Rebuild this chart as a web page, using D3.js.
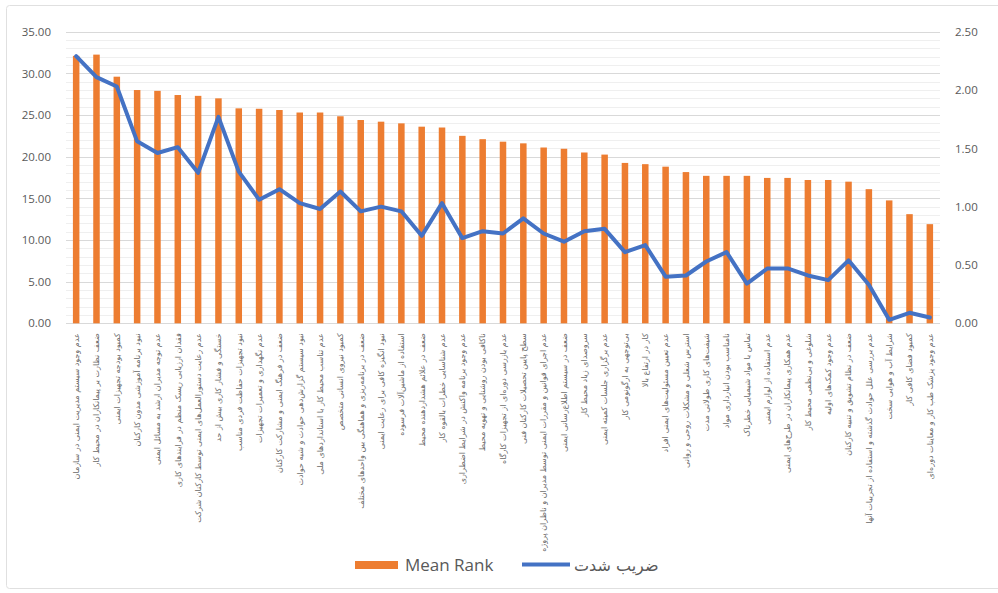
<!DOCTYPE html>
<html>
<head>
<meta charset="utf-8">
<script src="https://cdn.jsdelivr.net/npm/d3@7"></script>
<style>
  html, body { margin: 0; padding: 0; background: #fff; }
  svg { display: block; }
</style>
</head>
<body>
<svg id="chart" width="998" height="593"></svg>
<script>
const categories = [
  "عدم وجود سیستم مدیریت ایمنی در سازمان",
  "ضعف نظارت بر پیمانکاران در محیط کار",
  "کمبود بودجه تجهیزات ایمنی",
  "نبود برنامه آموزشی مدون کارکنان",
  "عدم توجه مدیران ارشد به مسائل ایمنی",
  "فقدان ارزیابی ریسک منظم در فرایندهای کاری",
  "عدم رعایت دستورالعمل‌های ایمنی توسط کارکنان شرکت",
  "خستگی و فشار کاری بیش از حد",
  "نبود تجهیزات حفاظت فردی مناسب",
  "عدم نگهداری و تعمیرات تجهیزات",
  "ضعف در فرهنگ ایمنی و مشارکت کارکنان",
  "نبود سیستم گزارش‌دهی حوادث و شبه حوادث",
  "عدم تناسب محیط کار با استانداردهای ملی",
  "کمبود نیروی انسانی متخصص",
  "ضعف در برنامه‌ریزی و هماهنگی بین واحدهای مختلف",
  "نبود انگیزه کافی برای رعایت ایمنی",
  "استفاده از ماشین‌آلات فرسوده",
  "ضعف در علائم هشداردهنده محیط",
  "عدم شناسایی خطرات بالقوه کار",
  "عدم وجود برنامه واکنش در شرایط اضطراری",
  "ناکافی بودن روشنایی و تهویه محیط",
  "عدم بازرسی دوره‌ای از تجهیزات کارگاه",
  "سطح پایین تحصیلات کارکنان فنی",
  "عدم اجرای قوانین و مقررات ایمنی توسط مدیران و ناظران پروژه",
  "ضعف در سیستم اطلاع‌رسانی ایمنی",
  "سروصدای زیاد محیط کار",
  "عدم برگزاری جلسات کمیته ایمنی",
  "بی‌توجهی به ارگونومی کار",
  "کار در ارتفاع بالا",
  "عدم تعیین مسئولیت‌های ایمنی افراد",
  "استرس شغلی و مشکلات روحی و روانی",
  "شیفت‌های کاری طولانی مدت",
  "نامناسب بودن انبارداری مواد",
  "تماس با مواد شیمیایی خطرناک",
  "عدم استفاده از لوازم ایمنی",
  "عدم همکاری پیمانکاران در طرح‌های ایمنی",
  "شلوغی و بی‌نظمی محیط کار",
  "عدم وجود کمک‌های اولیه",
  "ضعف در نظام تشویق و تنبیه کارکنان",
  "عدم بررسی علل حوادث گذشته و استفاده از تجربیات آنها",
  "شرایط آب و هوایی سخت",
  "کمبود فضای کافی کار",
  "عدم وجود پزشک طب کار و معاینات دوره‌ای"
];

const meanRank = [
  32.1, 32.25, 29.6, 28.0, 27.9, 27.4, 27.3, 27.0, 25.8, 25.75,
  25.6, 25.3, 25.3, 24.85, 24.4, 24.2, 24.0, 23.6, 23.5, 22.5,
  22.1, 21.8, 21.6, 21.1, 20.95, 20.5, 20.25, 19.25, 19.1, 18.8,
  18.15, 17.7, 17.7, 17.7, 17.45, 17.45, 17.2, 17.2, 17.0, 16.1,
  14.75, 13.1, 11.9
];

const severity = [
  2.29, 2.11, 2.03, 1.56, 1.46, 1.51, 1.29, 1.77, 1.30, 1.06,
  1.15, 1.03, 0.98, 1.13, 0.96, 1.00, 0.96, 0.75, 1.03, 0.73,
  0.79, 0.77, 0.90, 0.77, 0.70, 0.79, 0.81, 0.61, 0.67, 0.40,
  0.41, 0.53, 0.61, 0.34, 0.47, 0.47, 0.41, 0.37, 0.54, 0.33,
  0.03, 0.09, 0.05
];

const leftTicks = [0, 5, 10, 15, 20, 25, 30, 35];
const rightTicks = [0, 0.5, 1.0, 1.5, 2.0, 2.5];
const seriesNames = ["Mean Rank", "ضریب شدت"];

const W = 998, H = 593;
const margin = { left: 66, right: 58, top: 31.7, bottom: 269.7 };
const svg = d3.select("#chart");

// outer border
svg.append("rect")
  .attr("x", 6.5).attr("y", 5.5)
  .attr("width", W).attr("height", 583)
  .attr("rx", 3)
  .attr("fill", "#fff")
  .attr("stroke", "#e0e0e0")
  .attr("stroke-width", 1);

const x = d3.scaleBand()
  .domain(d3.range(categories.length))
  .range([margin.left, W - margin.right])
  .paddingInner(0.68)
  .paddingOuter(0.34);

const yL = d3.scaleLinear().domain([0, 35]).range([H - margin.bottom, margin.top]);
const yR = d3.scaleLinear().domain([0, 2.5]).range([H - margin.bottom, margin.top]);

// minor gridlines
const g = svg.append("g");
g.selectAll("line.minor")
  .data(d3.range(0, 36, 1).filter(v => v % 5 !== 0))
  .enter().append("line")
  .attr("x1", margin.left).attr("x2", W - margin.right)
  .attr("y1", d => Math.round(yL(d)) + 0.5).attr("y2", d => Math.round(yL(d)) + 0.5)
  .attr("stroke", "#efefef").attr("stroke-width", 1);

// major gridlines
g.selectAll("line.major")
  .data(leftTicks)
  .enter().append("line")
  .attr("x1", margin.left).attr("x2", W - margin.right)
  .attr("y1", d => Math.round(yL(d)) + 0.5).attr("y2", d => Math.round(yL(d)) + 0.5)
  .attr("stroke", "#d9d9d9").attr("stroke-width", 1);

// bars
svg.append("g").selectAll("rect")
  .data(meanRank)
  .enter().append("rect")
  .attr("x", (d, i) => x(i))
  .attr("width", x.bandwidth())
  .attr("y", d => yL(d))
  .attr("height", d => yL(0) - yL(d))
  .attr("fill", "#ED7D31");

// left axis
const axL = svg.append("g")
  .attr("transform", `translate(${margin.left - 12},0)`)
  .call(d3.axisLeft(yL).tickValues(leftTicks).tickFormat(d3.format(".2f")).tickSize(0));
axL.select(".domain").remove();
axL.selectAll("text")
  .attr("fill", "#595959")
  .style("font-family", "Open Sans, Lato, sans-serif")
  .style("font-size", "11.5px");

// right axis
const axR = svg.append("g")
  .attr("transform", `translate(${W - margin.right + 12},0)`)
  .call(d3.axisRight(yR).tickValues(rightTicks).tickFormat(d3.format(".2f")).tickSize(0));
axR.select(".domain").remove();
axR.selectAll("text")
  .attr("fill", "#595959")
  .style("font-family", "Open Sans, Lato, sans-serif")
  .style("font-size", "11.5px");

// x labels
svg.append("g").selectAll("text")
  .data(categories)
  .enter().append("text")
  .attr("transform", (d, i) => `translate(${x(i) + x.bandwidth() / 2},${H - margin.bottom + 10}) rotate(-90)`)
  .attr("text-anchor", "end")
  .attr("dy", "0.35em")
  .attr("fill", "#6a6a6a")
  .style("font-family", "DejaVu Sans, sans-serif")
  .style("font-size", "8px")
  .text(d => d);

// line
const line = d3.line()
  .x((d, i) => x(i) + x.bandwidth() / 2)
  .y(d => yR(d));
svg.append("path")
  .datum(severity)
  .attr("d", line)
  .attr("fill", "none")
  .attr("stroke", "#4472C4")
  .attr("stroke-width", 4)
  .attr("stroke-linejoin", "round")
  .attr("stroke-linecap", "round");

// legend
const lg = svg.append("g");
lg.append("rect")
  .attr("x", 355).attr("y", 561).attr("width", 43).attr("height", 8)
  .attr("fill", "#ED7D31");
lg.append("text")
  .attr("x", 405).attr("y", 571)
  .attr("fill", "#595959")
  .style("font-family", "Open Sans, Lato, sans-serif")
  .style("font-size", "17px")
  .text(seriesNames[0]);
lg.append("line")
  .attr("x1", 522).attr("x2", 570).attr("y1", 564.5).attr("y2", 564.5)
  .attr("stroke", "#4472C4").attr("stroke-width", 4);
lg.append("text")
  .attr("x", 574).attr("y", 571)
  .attr("fill", "#595959")
  .attr("text-anchor", "start")
  .style("font-family", "DejaVu Sans, sans-serif")
  .style("font-size", "16px")
  .text(seriesNames[1]);
</script>
</body>
</html>
